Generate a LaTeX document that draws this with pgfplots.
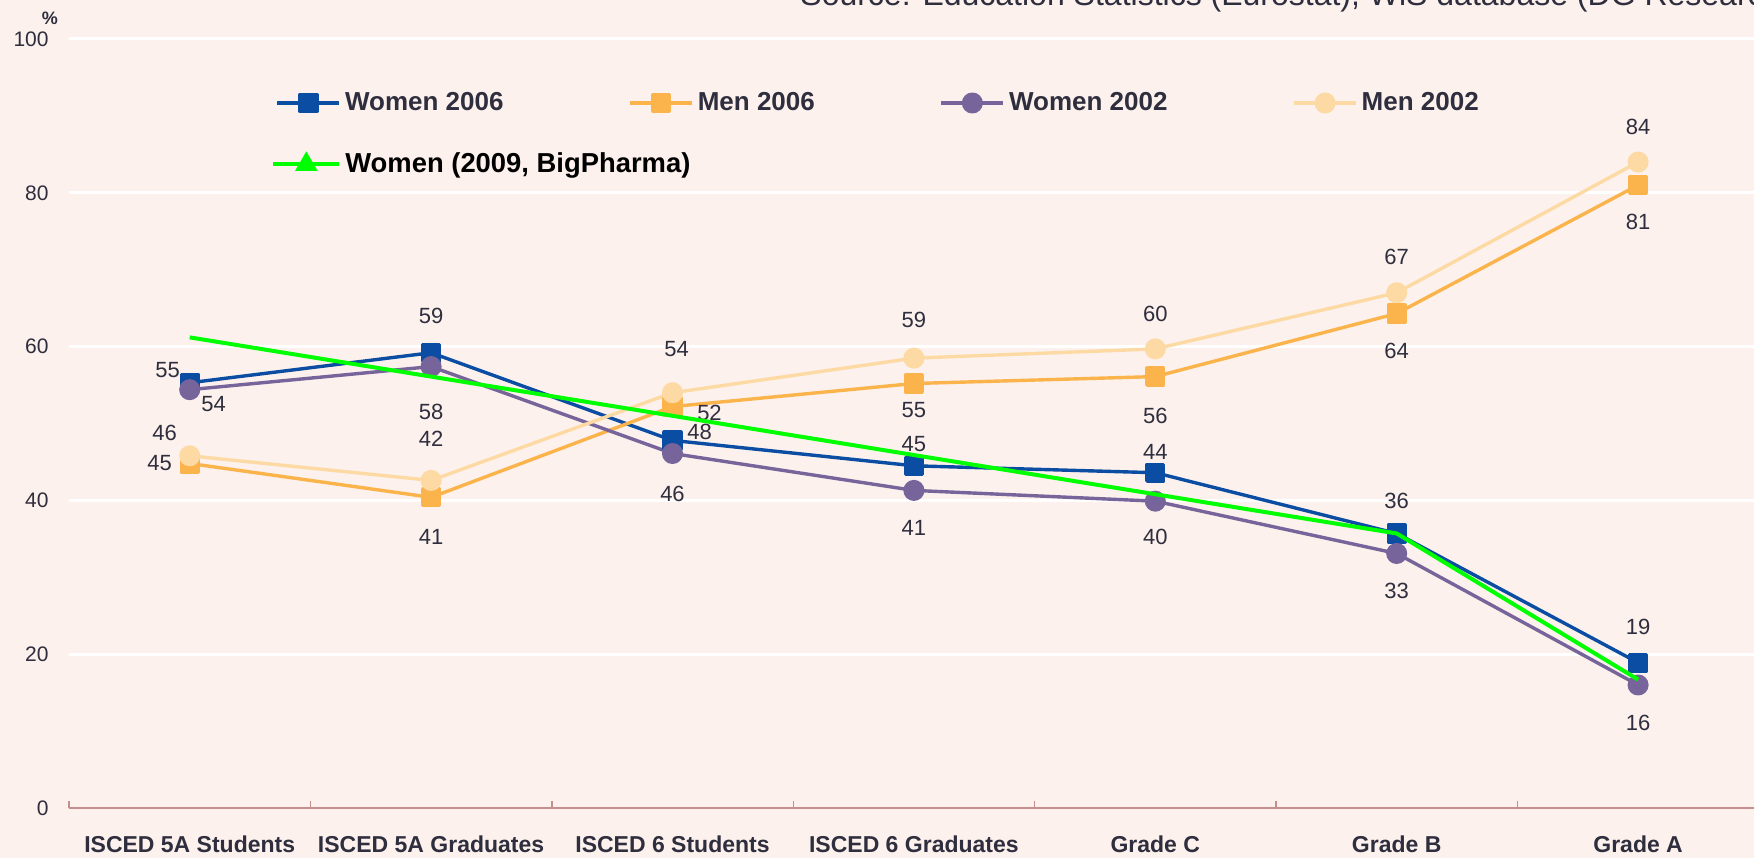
\documentclass[border=0pt]{standalone}
\usepackage{fontspec}
\setmainfont{Liberation Sans}
\usepackage{pgfplots}
\usepackage{pgfplotstable}
\pgfplotsset{compat=1.18}
\definecolor{bgc}{HTML}{FCF1EC}
\definecolor{wsixc}{HTML}{0A4DA2}
\definecolor{msixc}{HTML}{FBB44C}
\definecolor{wtwoc}{HTML}{76649A}
\definecolor{mtwoc}{HTML}{FDDAA4}
\definecolor{greenc}{HTML}{00FF00}
\definecolor{axisc}{HTML}{C58F8F}
\definecolor{labc}{HTML}{2E2E3E}

% x = category index, y = value, lab = printed label, dx/dy = label offset (pt)
\pgfplotstableread{
x y lab dx dy
0 55.3 55 -11 6.5
1 59.2 59 0 18.5
2 47.8 48 13.5 4
3 44.5 45 0 11
4 43.6 44 0 10.5
5 35.7 36 0 16.5
6 18.9 19 0 18
}\wsix
\pgfplotstableread{
x y lab dx dy
0 44.8 45 -15 0
1 40.4 41 0 -20
2 52.2 52 18.5 -3
3 55.2 55 0 -13.5
4 56.1 56 0 -19.5
5 64.3 64 0 -18.5
6 81.0 81 0 -18.5
}\msix
\pgfplotstableread{
x y lab dx dy
0 54.4 54 12 -7
1 57.4 58 0 -22.5
2 46.1 46 0 -20
3 41.3 41 0 -19
4 39.9 40 0 -18
5 33.1 33 0 -18.5
6 16.0 16 0 -19
}\wtwo
\pgfplotstableread{
x y lab dx dy
0 45.8 46 -12.5 11.5
1 42.6 42 0 21
2 54.0 54 2 22
3 58.5 59 0 19
4 59.7 60 0 17.5
5 67.0 67 0 18
6 84.0 84 0 17.5
}\mtwo

\pgfplotsset{
  vlabels/.style={
    draw=none, mark=none, forget plot,
    point meta=explicit symbolic,
    nodes near coords,
    visualization depends on={\thisrow{dx}\as\ldx},
    visualization depends on={\thisrow{dy}\as\ldy},
    every node near coord/.append style={anchor=center, inner sep=0pt,
      xshift=\ldx pt, yshift=\ldy pt,
      font=\fontsize{11}{12}\selectfont, text=labc},
  },
}

\begin{document}
\begin{tikzpicture}
\fill[bgc] (0,0) rectangle (877pt,429pt);
\begin{axis}[
  at={(34.5pt,25pt)}, anchor=south west,
  scale only axis, width=844.9pt, height=384.5pt,
  xmin=-0.5, xmax=6.5, ymin=0, ymax=100,
  axis line style={draw=none},
  xtick={0,...,6},
  xticklabels={ISCED 5A Students, ISCED 5A Graduates, ISCED 6 Students, ISCED 6 Graduates, Grade C, Grade B, Grade A},
  major x tick style={draw=none},
  minor xtick={-0.5,0.5,...,6.5},
  minor x tick style={draw=axisc, line width=0.7pt},
  minor tick length=3.5pt,
  tick align=inside,
  tick pos=left,
  ytick={20,40,60,80,100},
  ytick style={draw=none},
  ymajorgrids,
  grid style={white, line width=1.5pt},
  extra y ticks={0},
  extra y tick style={grid=major, grid style={axisc, line width=1.2pt}, tick style={draw=none}},
  /pgf/number format/assume math mode=true,
  xticklabel style={font=\fontsize{11.5}{13}\selectfont\bfseries, text=labc, anchor=base, yshift=-22pt},
  yticklabel style={font=\fontsize{10.5}{12}\selectfont, text=labc, anchor=east, inner sep=0pt, xshift=-10pt},
  legend columns=4,
  legend cell align=left,
  legend style={draw=none, fill=none, at={(0.1221,0.9168)}, anchor=west, inner sep=0pt,
    font=\fontsize{13}{14}\selectfont\bfseries, text=labc,
    /tikz/every even column/.append style={column sep=60.4pt}},
  legend image code/.code={\draw[mark repeat=2, mark phase=2, #1] plot coordinates {(0pt,0pt) (15.5pt,0pt) (31pt,0pt)};},
]
\addplot[wsixc, line width=1.7pt, line join=round, mark=square*, mark size=4.2pt, mark options={solid}] table[x=x, y=y]{\wsix};
\addlegendentry{Women 2006}
\addplot[msixc, line width=1.7pt, line join=round, mark=square*, mark size=4.2pt, mark options={solid}] table[x=x, y=y]{\msix};
\addlegendentry{Men 2006}
\addplot[wtwoc, line width=1.7pt, line join=round, mark=*, mark size=4.4pt, mark options={solid}] table[x=x, y=y]{\wtwo};
\addlegendentry{Women 2002}
\addplot[mtwoc, line width=1.7pt, line join=round, mark=*, mark size=4.4pt, mark options={solid}] table[x=x, y=y]{\mtwo};
\addlegendentry{Men 2002}
\addplot[vlabels] table[x=x, y=y, meta=lab]{\wsix};
\addplot[vlabels] table[x=x, y=y, meta=lab]{\msix};
\addplot[vlabels] table[x=x, y=y, meta=lab]{\wtwo};
\addplot[vlabels] table[x=x, y=y, meta=lab]{\mtwo};
\end{axis}
\begin{axis}[
  at={(34.5pt,25pt)}, anchor=south west,
  scale only axis, width=844.9pt, height=384.5pt,
  xmin=-0.5, xmax=6.5, ymin=0, ymax=100,
  hide axis,
  legend style={draw=none, fill=none, at={(0.1195,0.837)}, anchor=west, inner sep=0pt,
    font=\fontsize{13.7}{15}\selectfont\bfseries, text=black},
  legend image code/.code={\draw[mark repeat=2, mark phase=2, #1] plot coordinates {(0pt,0pt) (16.5pt,0pt) (33pt,0pt)};},
]
\addplot[greenc, line width=2pt, line join=round, forget plot] coordinates {(0,61.2) (5,35.7) (6,16.7)};
\addlegendimage{greenc, line width=2pt, mark=triangle*, mark size=4.5pt, mark options={solid}}
\addlegendentry{Women (2009, BigPharma)}
\end{axis}
\node[anchor=base west, inner sep=0pt, text=labc, font=\fontsize{16}{18}\selectfont] at (400pt,426pt) {Source: Education Statistics (Eurostat), WiS database (DG Research)};
\node[anchor=center, inner sep=0pt, text=labc, font=\fontsize{9}{10}\selectfont\bfseries] at (25pt,420pt) {\%};
\pgfresetboundingbox
\useasboundingbox (0,0) rectangle (877pt,429pt);
\end{tikzpicture}
\end{document}
